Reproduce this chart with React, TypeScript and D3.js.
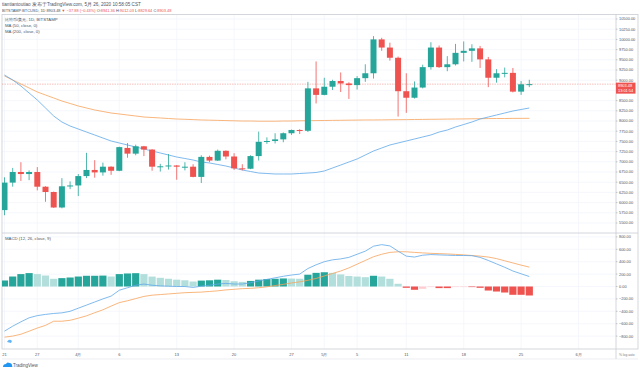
import React from "react";
import * as d3 from "d3";

// BITSTAMP:BTCUSD daily, 2020-03-23 .. 2020-05-26
const firstDay = "2020-03-23";
const open = [5816, 6490, 6750, 6700, 6750, 6390, 6260, 5880, 6400, 6420, 6650, 6800, 6740, 6880, 6780, 7340, 7200, 7380, 7300, 6870, 6890, 6910, 6870, 6880, 6630, 7120, 7030, 7270, 7130, 6840, 6830, 7140, 7490, 7510, 7550, 7700, 7780, 7760, 8800, 8640, 8840, 8980, 8920, 8880, 9050, 9170, 10000, 9800, 9550, 8730, 8570, 8820, 9320, 9800, 9320, 9390, 9670, 9720, 9780, 9510, 9060, 9170, 9180, 8720, 8900];
const high = [6620, 6850, 6990, 6790, 6870, 6400, 6270, 6600, 6520, 6700, 7220, 7040, 6980, 6890, 7370, 7460, 7420, 7390, 7310, 6950, 7190, 6920, 6990, 6940, 7160, 7150, 7300, 7280, 7210, 6940, 7160, 7740, 7600, 7700, 7720, 7790, 7800, 8960, 9460, 9060, 9010, 9190, 8950, 9100, 9390, 10080, 10040, 9920, 9580, 9170, 8970, 9380, 9930, 9850, 9590, 9890, 9950, 9880, 9840, 9570, 9270, 9310, 9300, 8980, 9010];
const low = [5690, 6390, 6530, 6550, 6300, 6020, 5870, 5860, 6330, 6160, 6600, 6610, 6660, 6680, 6770, 7100, 7160, 7140, 6780, 6760, 6810, 6560, 6790, 6620, 6480, 6990, 7020, 7060, 6800, 6790, 6820, 7030, 7440, 7450, 7480, 7660, 7680, 7730, 8430, 8630, 8760, 8710, 8540, 8770, 8960, 9040, 9720, 9480, 8110, 8200, 8550, 8800, 9260, 9300, 9220, 9360, 9460, 9450, 9300, 8830, 8940, 9070, 8700, 8640, 8830];
const close = [6490, 6750, 6700, 6750, 6390, 6260, 5880, 6400, 6420, 6650, 6800, 6740, 6880, 6780, 7360, 7200, 7380, 7300, 6880, 6890, 6910, 6880, 6880, 6630, 7120, 7030, 7270, 7130, 6840, 6830, 7140, 7490, 7510, 7550, 7700, 7780, 7760, 8800, 8640, 8840, 8980, 8920, 8880, 9050, 9170, 10000, 9800, 9550, 8730, 8570, 8820, 9320, 9800, 9320, 9390, 9670, 9720, 9780, 9510, 9060, 9170, 9180, 8720, 8900, 8903.48];

const ma50 = [9127, 9005, 8858, 8686, 8515, 8319, 8122, 7975, 7877, 7804, 7730, 7657, 7583, 7510, 7461, 7412, 7363, 7314, 7265, 7216, 7167, 7118, 7081, 7044, 6995, 6971, 6934, 6897, 6848, 6799, 6762, 6725, 6713, 6701, 6701, 6701, 6713, 6725, 6738, 6775, 6848, 6921, 6995, 7069, 7167, 7265, 7338, 7412, 7461, 7510, 7559, 7608, 7657, 7730, 7779, 7853, 7914, 7975, 8049, 8098, 8147, 8196, 8245, 8282, 8319];
const ma200 = [9103, 9005, 8907, 8809, 8711, 8637, 8564, 8490, 8429, 8368, 8319, 8270, 8233, 8196, 8172, 8147, 8123, 8098, 8086, 8074, 8061, 8049, 8042, 8034, 8025, 8020, 8015, 8010, 8005, 8000, 8000, 7995, 7995, 7995, 8000, 8000, 8005, 8007, 8010, 8012, 8015, 8017, 8020, 8022, 8025, 8025, 8027, 8030, 8032, 8034, 8037, 8039, 8042, 8044, 8047, 8049, 8051, 8054, 8056, 8059, 8061, 8061, 8064, 8064, 8066];

const macdLine = [-720, -640, -570, -505, -470, -450, -435, -425, -400, -350, -300, -250, -200, -155, -60, -20, 20, 40, 20, 10, 5, 0, 0, -15, 5, 20, 40, 50, 40, 40, 60, 90, 115, 140, 165, 185, 200, 290, 350, 400, 430, 445, 470, 520, 570, 650, 675, 655, 570, 490, 475, 505, 515, 510, 505, 500, 500, 497, 470, 420, 365, 310, 250, 205, 161];
const signalLine = [-817, -800, -770, -721, -670, -627, -560, -560, -545, -511, -473, -423, -376, -316, -260, -230, -195, -160, -140, -130, -120, -110, -100, -95, -90, -80, -70, -55, -45, -35, -30, -20, -5, 15, 35, 57, 75, 100, 130, 170, 210, 250, 300, 360, 420, 480, 520, 550, 560, 560, 550, 542, 535, 530, 525, 518, 510, 500, 490, 475, 450, 415, 380, 345, 313];
const histogram = [97, 161, 200, 216, 200, 177, 124, 135, 145, 161, 173, 173, 176, 161, 200, 210, 215, 200, 160, 140, 125, 110, 100, 80, 95, 100, 110, 105, 85, 75, 90, 110, 120, 125, 130, 128, 125, 190, 220, 230, 220, 195, 170, 160, 150, 173, 161, 124, 44, -21, -53, -37, -10, -26, -26, -5, -3, -4, -21, -65, -81, -97, -134, -134, -145];

const priceTicks = d3.range(5500, 10501, 250);
const macdTicks = [800, 600, 400, 200, 0, -200, -400, -600, -800];
const timeTickDates = ["2020-03-23", "2020-03-27", "2020-04-01", "2020-04-06", "2020-04-13", "2020-04-20", "2020-04-27", "2020-05-01", "2020-05-05", "2020-05-11", "2020-05-18", "2020-05-25", "2020-06-01"];
const timeTickLabels = ["21", "27", "4月", "6", "13", "20", "27", "5月", "5", "11", "18", "25", "6月"];

const lastPrice = 8903.48;
const UP = "#26a69a";
const DOWN = "#ef5350";
const FONT = "'Liberation Sans', Arial, sans-serif";

export default function App() {
  const left = 2, right = 616, outerRight = 638;
  const priceTop = 14.5, priceBottom = 233, macdBottom = 349;

  const parse = d3.timeParse("%Y-%m-%d");
  const start = parse(firstDay) as Date;
  const days = close.map((_, i) => d3.timeDay.offset(start, i));

  const x = d3.scaleTime()
    .domain([start, d3.timeDay.offset(start, 70)])
    .range([4.5, 4.5 + 70 * 8.2]);
  const yP = d3.scaleLinear().domain([5500, 10500]).range([223, 19]);
  const yM = d3.scaleLinear().domain([-800, 800]).range([336.1, 236.9]);

  const priceLine = (arr: number[]) =>
    d3.line<number>().x((_, i) => x(days[i])).y(d => yP(d))(arr) || "";
  const macdPath = (arr: number[]) =>
    d3.line<number>().x((_, i) => x(days[i])).y(d => yM(d))(arr) || "";

  const lastY = yP(lastPrice);
  const grid = "#f0f3fa";

  const histColor = (v: number, i: number) => {
    const prev = i > 0 ? histogram[i - 1] : v;
    if (v >= 0) return v >= prev ? UP : "#b2dfdb";
    return v <= prev ? DOWN : "#ffcdd2";
  };

  return (
    <svg width={640} height={371} style={{ position: "fixed", left: 0, top: 0, background: "#fff" }}
      fontFamily={FONT}>
      <defs>
        <clipPath id="pricePane"><rect x={left} y={priceTop} width={right - left} height={priceBottom - priceTop} /></clipPath>
        <clipPath id="macdPane"><rect x={left} y={priceBottom} width={right - left} height={macdBottom - priceBottom} /></clipPath>
      </defs>

      {/* header */}
      <text x={2} y={6} fontSize={4.6} fill="#50535e">tiantiantoutiao 发布于TradingView.com, 5月 26, 2020 10:58:05 CST</text>
      <text x={2} y={12} fontSize={3.9} fill="#50535e">
        BITSTAMP:BTCUSD, 1D 8903.48 <tspan fill={DOWN}>▼</tspan><tspan fill={DOWN}> −37.88 (−0.43%)</tspan>
        <tspan> O:</tspan><tspan fill={DOWN}>8941.36</tspan>
        <tspan> H:</tspan><tspan fill={DOWN}>9012.03</tspan>
        <tspan> L:</tspan><tspan fill={DOWN}>8829.64</tspan>
        <tspan> C:</tspan><tspan fill={DOWN}>8903.48</tspan>
      </text>

      {/* grids */}
      {priceTicks.map(t => (
        <line key={"pg" + t} x1={left} x2={right} y1={yP(t)} y2={yP(t)} stroke={grid} strokeWidth={0.7} />
      ))}
      {macdTicks.map(t => (
        <line key={"mg" + t} x1={left} x2={right} y1={yM(t)} y2={yM(t)} stroke={grid} strokeWidth={0.7} />
      ))}
      {timeTickDates.map(d => {
        const xx = x(parse(d) as Date);
        return <line key={"vg" + d} x1={xx} x2={xx} y1={priceTop} y2={macdBottom} stroke={grid} strokeWidth={0.7} />;
      })}

      {/* frame */}
      <rect x={left} y={priceTop} width={outerRight - left} height={macdBottom - priceTop} fill="none" stroke="#c9ccd3" strokeWidth={0.8} />
      <line x1={right} x2={right} y1={priceTop} y2={macdBottom + 10} stroke="#c9ccd3" strokeWidth={0.8} />
      <line x1={left} x2={outerRight} y1={priceBottom} y2={priceBottom} stroke="#c9ccd3" strokeWidth={0.8} />
      <line x1={left} x2={outerRight} y1={macdBottom + 10} y2={macdBottom + 10} stroke="#e0e3eb" strokeWidth={0.6} />

      {/* price pane */}
      <g clipPath="url(#pricePane)">
        <line x1={left} x2={right} y1={lastY} y2={lastY} stroke={DOWN} strokeOpacity={0.55} strokeWidth={0.7} strokeDasharray="1.5 1" />
        <path d={priceLine(ma200)} fill="none" stroke="#f7a35c" strokeWidth={0.8} />
        <path d={priceLine(ma50)} fill="none" stroke="#5fa8e8" strokeWidth={0.8} />
        {close.map((c, i) => {
          const o = open[i];
          const col = c >= o ? UP : DOWN;
          const cx = x(days[i]);
          const top = yP(Math.max(o, c));
          const h = Math.max(1, yP(Math.min(o, c)) - top);
          return (
            <g key={"c" + i}>
              <line x1={cx} x2={cx} y1={yP(high[i])} y2={yP(low[i])} stroke={col} strokeWidth={0.8} />
              <rect x={cx - 3} y={top} width={6} height={h} fill={col} />
            </g>
          );
        })}
      </g>

      {/* legend */}
      <g fontSize={4.3} fill="#50535e">
        <text x={5} y={21}>比特币/美元, 1D, BITSTAMP</text>
        <text x={5} y={27}>MA (50, close, 0)</text>
        <text x={5} y={33}>MA (200, close, 0)</text>
        <text x={5} y={240}>MACD (12, 26, close, 9)</text>
      </g>

      {/* macd pane */}
      <g clipPath="url(#macdPane)">
        {histogram.map((v, i) => {
          const cx = x(days[i]);
          const y0 = yM(0), y1 = yM(v);
          return <rect key={"h" + i} x={cx - 3.6} y={Math.min(y0, y1)} width={7.2} height={Math.max(0.6, Math.abs(y1 - y0))} fill={histColor(v, i)} />;
        })}
        <path d={macdPath(signalLine)} fill="none" stroke="#f7a35c" strokeWidth={0.8} />
        <path d={macdPath(macdLine)} fill="none" stroke="#5fa8e8" strokeWidth={0.8} />
      </g>

      {/* right price axis */}
      <g fontSize={3.9} fill="#50535e">
        {priceTicks.filter(t => Math.abs(yP(t) - (lastY + 4)) > 7).map(t => (
          <g key={"pt" + t}>
            <line x1={right} x2={right + 1.5} y1={yP(t)} y2={yP(t)} stroke="#9598a1" strokeWidth={0.5} />
            <text x={619} y={yP(t) + 1.4}>{t.toFixed(2)}</text>
          </g>
        ))}
        {macdTicks.map(t => (
          <g key={"mt" + t}>
            <line x1={right} x2={right + 1.5} y1={yM(t)} y2={yM(t)} stroke="#9598a1" strokeWidth={0.5} />
            <text x={619} y={yM(t) + 1.4}>{t < 0 ? "−" + Math.abs(t).toFixed(2) : t.toFixed(2)}</text>
          </g>
        ))}
      </g>
      <rect x={right} y={lastY - 1.5} width={19.5} height={11} fill={DOWN} />
      <text x={618} y={lastY + 3} fontSize={3.9} fill="#fff">{lastPrice.toFixed(2)}</text>
      <text x={618} y={lastY + 7.8} fontSize={3.9} fill="#fff">13:01:54</text>

      {/* time axis */}
      <g fontSize={4} fill="#50535e" textAnchor="middle">
        {timeTickDates.map((d, i) => (
          <text key={"tt" + d} x={x(parse(d) as Date)} y={355.5}>{timeTickLabels[i]}</text>
        ))}
      </g>
      <text x={619} y={355.5} fontSize={3.3} fill="#787b86">% log auto</text>

      {/* logo */}
      <path d="M3,367 q0,-3 3,-3 q1,-2.5 3.5,-1 q2.5,0 2.5,2.5 q1,0.5 0,1.5 z" fill="#2196f3" />
      <text x={13} y={367} fontSize={4.5} fill="#50535e">TradingView</text>
      <path d="M7,342 q2,-4 5,-1 l-1,2 z" fill="#2196f3" opacity={0.7} />
    </svg>
  );
}
